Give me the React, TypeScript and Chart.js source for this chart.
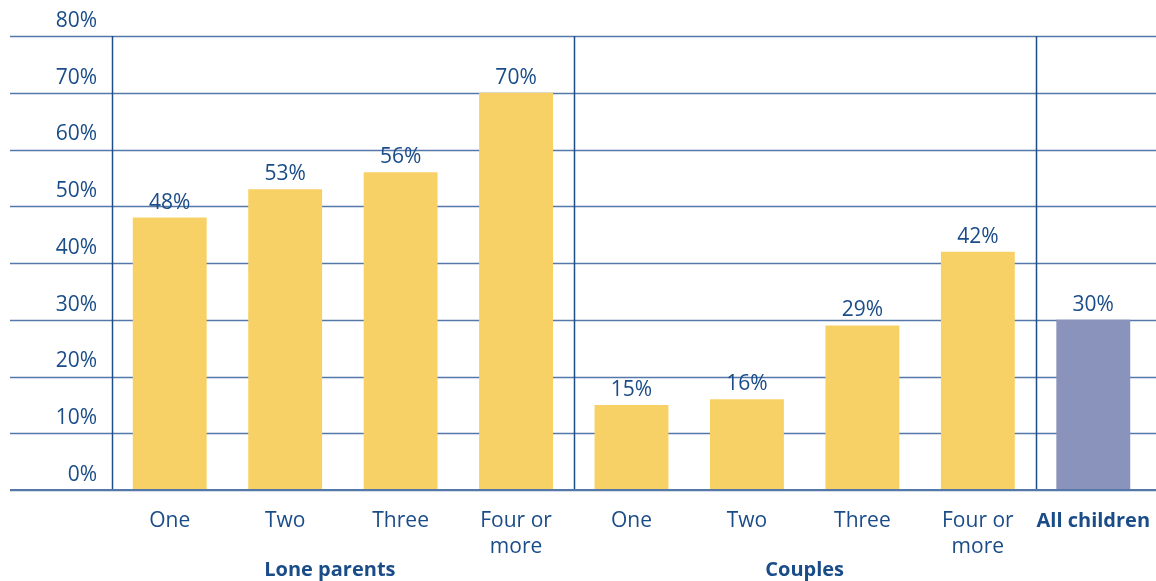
import React, { useEffect, useRef } from "react";
import { Chart, registerables } from "chart.js";

Chart.register(...registerables);

const categories: string[][] = [
  ["One"], ["Two"], ["Three"], ["Four or", "more"],
  ["One"], ["Two"], ["Three"], ["Four or", "more"],
  ["All children"],
];
const values: number[] = [48, 53, 56, 70, 15, 16, 29, 42, 30];
const barColors: string[] = [
  "#f8d166", "#f8d166", "#f8d166", "#f8d166",
  "#f8d166", "#f8d166", "#f8d166", "#f8d166",
  "#8a93bb",
];
const groups: { label: string; from: number; to: number }[] = [
  { label: "Lone parents", from: 0, to: 3 },
  { label: "Couples", from: 4, to: 7 },
];
const yTicks: number[] = [0, 10, 20, 30, 40, 50, 60, 70, 80];

const TEXT = "#1a4c88";
const GRID = "#5479a8";
const AXIS = "#1f4d88";
const FONT = "'Open Sans', 'Noto Sans', sans-serif";

const overlay = {
  id: "overlay",
  beforeDatasetsDraw(chart: any) {
    const { ctx, chartArea, scales } = chart;
    const y = scales.y;
    const x = scales.x;
    ctx.save();
    ctx.lineWidth = 1.5;
    ctx.strokeStyle = GRID;
    yTicks.forEach((t) => {
      const py = Math.round(y.getPixelForValue(t)) + 0.5;
      ctx.beginPath();
      ctx.moveTo(10, py);
      ctx.lineTo(chart.width, py);
      ctx.stroke();
    });
    ctx.strokeStyle = AXIS;
    ctx.lineWidth = 1.5;
    const top = y.getPixelForValue(80);
    const bot = y.getPixelForValue(0);
    const seps = [
      chartArea.left,
      (x.getPixelForValue(3) + x.getPixelForValue(4)) / 2,
      (x.getPixelForValue(7) + x.getPixelForValue(8)) / 2,
    ];
    seps.forEach((sx) => {
      const px = Math.round(sx) + 0.5;
      ctx.beginPath();
      ctx.moveTo(px, top);
      ctx.lineTo(px, bot);
      ctx.stroke();
    });
    ctx.fillStyle = TEXT;
    ctx.font = `21px ${FONT}`;
    ctx.textAlign = "right";
    ctx.textBaseline = "middle";
    yTicks.forEach((t) => {
      ctx.fillText(`${t}%`, 97, y.getPixelForValue(t) - 15);
    });
    ctx.restore();
  },
  afterDatasetsDraw(chart: any) {
    const { ctx, scales } = chart;
    const y = scales.y;
    const x = scales.x;
    ctx.save();
    ctx.strokeStyle = GRID;
    ctx.lineWidth = 2;
    const by = Math.round(y.getPixelForValue(0));
    ctx.beginPath();
    ctx.moveTo(10, by);
    ctx.lineTo(chart.width, by);
    ctx.stroke();

    ctx.fillStyle = TEXT;
    ctx.textAlign = "center";
    ctx.textBaseline = "middle";
    ctx.font = `21px ${FONT}`;
    values.forEach((v, i) => {
      ctx.fillText(`${v}%`, x.getPixelForValue(i), y.getPixelForValue(v) - 15);
    });
    categories.forEach((lines, i) => {
      ctx.font = i === 8 ? `bold 20px ${FONT}` : `21px ${FONT}`;
      lines.forEach((ln, k) => {
        ctx.fillText(ln, x.getPixelForValue(i), 521 + k * 26);
      });
    });
    ctx.font = `bold 20px ${FONT}`;
    groups.forEach((g, gi) => {
      const cx = (x.getPixelForValue(g.from) + x.getPixelForValue(g.to)) / 2 + (gi === 0 ? -13 : 0);
      ctx.fillText(g.label, cx, 570);
    });
    ctx.restore();
  },
};

export default function App() {
  const ref = useRef<HTMLCanvasElement | null>(null);
  useEffect(() => {
    document.body.style.margin = "0";
    const chart = new Chart(ref.current as HTMLCanvasElement, {
      type: "bar",
      data: {
        labels: categories.map((c) => c.join(" ")),
        datasets: [
          {
            data: values,
            backgroundColor: barColors,
            barPercentage: 0.64,
            categoryPercentage: 1,
          },
        ],
      },
      options: {
        animation: false,
        responsive: true,
        maintainAspectRatio: false,
        layout: { padding: { left: 112, right: 5, top: 36, bottom: 91 } },
        plugins: { legend: { display: false }, tooltip: { enabled: false } },
        scales: {
          x: { display: false, offset: true },
          y: { display: false, min: 0, max: 80 },
        },
      },
      plugins: [overlay],
    });
    return () => chart.destroy();
  }, []);
  return (
    <div style={{ width: 1156, height: 581, position: "relative" }}>
      <canvas ref={ref} />
    </div>
  );
}
